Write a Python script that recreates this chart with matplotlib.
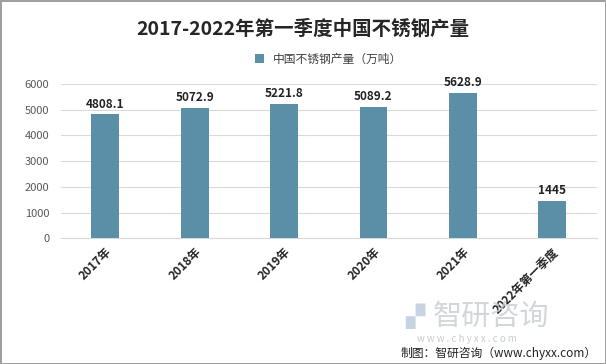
import matplotlib
matplotlib.use("Agg")
import matplotlib.pyplot as plt

plt.rcParams["font.family"] = ["Noto Sans CJK SC", "DejaVu Sans"]

categories = ["2017年", "2018年", "2019年", "2020年", "2021年", "2022年第一季度"]
values = [4808.1, 5072.9, 5221.8, 5089.2, 5628.9, 1445]
value_labels = ["4808.1", "5072.9", "5221.8", "5089.2", "5628.9", "1445"]
yticks = [0, 1000, 2000, 3000, 4000, 5000, 6000]

fig = plt.figure(figsize=(6.06, 3.64), dpi=100)
fig.patch.set_edgecolor("#a0a0a0")
fig.patch.set_linewidth(2)
ax = fig.add_axes([0.1, 0.345, 0.885, 0.425])

x = range(len(categories))
ax.bar(x, values, width=0.31, color="#5b8fa8", label="中国不锈钢产量（万吨）", zorder=3)
for xi, v, s in zip(x, values, value_labels):
    ax.text(xi, v + 150, s, ha="center", va="bottom", fontsize=8.5,
            fontweight="bold", color="#222222")

ax.set_xlim(-0.5, len(categories) - 0.5)
ax.set_ylim(0, 6000)
ax.set_yticks(yticks)
ax.yaxis.grid(True, color="#d9d9d9", linewidth=0.8, zorder=0)
ax.tick_params(axis="y", length=0, labelsize=8, labelcolor="#595959", pad=8)
ax.tick_params(axis="x", length=0, pad=5)
ax.set_xticks(list(x))
ax.set_xticklabels(categories, rotation=45, ha="right", rotation_mode="anchor",
                   fontsize=8.5, fontweight="bold", color="#222222")
for s in ["top", "right", "left"]:
    ax.spines[s].set_visible(False)
ax.spines["bottom"].set_color("#d9d9d9")

fig.text(0.5, 0.92, "2017-2022年第一季度中国不锈钢产量", ha="center", va="center",
         fontsize=14, fontweight="bold", color="#262626")
ax.legend(loc="upper center", bbox_to_anchor=(0.5, 1.27), frameon=False,
          fontsize=8.5, handlelength=0.7, handleheight=0.7, labelcolor="#404040")

# watermark
fig.text(0.685, 0.13, "▞", ha="center", va="center", fontsize=18,
         color="#c5d3e3", family=["DejaVu Sans"])
fig.text(0.81, 0.13, "智研咨询", ha="center", va="center", fontsize=21,
         color="#c8ccd2", alpha=0.8)
fig.text(0.77, 0.07, "w w w . c h y x x . c o m", ha="center", va="center",
         fontsize=7, color="#c8ccd2")
fig.text(0.985, 0.03, "制图：智研咨询（www.chyxx.com）", ha="right", va="center",
         fontsize=8.5, color="#222222")

fig.savefig("out.png", dpi=100)
